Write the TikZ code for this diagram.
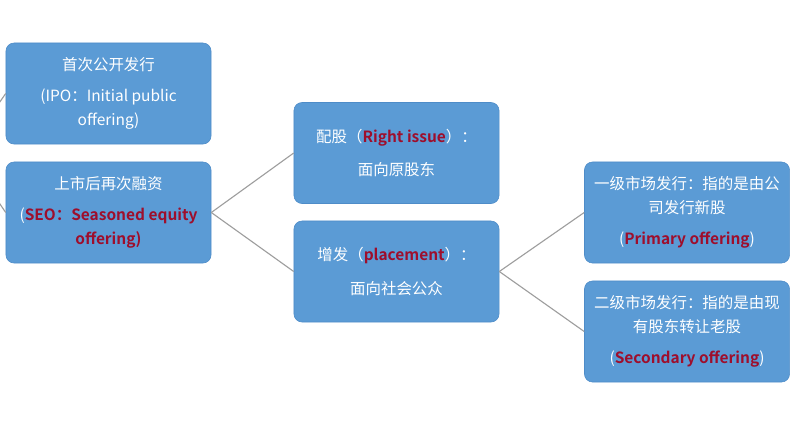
\documentclass[tikz,border=0pt]{standalone}
\usepackage{fontspec}
\setmainfont{Noto Sans CJK SC}[BoldFont={Noto Sans CJK SC Bold}]
\usepackage{tikz}

\definecolor{boxblue}{RGB}{91,155,213}
\definecolor{boxedge}{RGB}{78,140,200}
\definecolor{termred}{RGB}{158,14,44}
\definecolor{linkgray}{RGB}{158,158,158}
\newcommand{\term}[1]{\textcolor{termred}{\bfseries #1}}

\tikzset{
  stage/.style={draw=boxedge, fill=boxblue, rounded corners=0.2cm,
    minimum width=5.125cm, minimum height=2.525cm, inner sep=2pt,
    text=white, align=center, font=\fontsize{11}{17}\selectfont},
  link/.style={draw=linkgray, line width=0.8pt}
}

\begin{document}
\begin{tikzpicture}[x=0.025cm, y=-0.025cm]
  \useasboundingbox (0,0) rectangle (800,430);
  \clip (0,0) rectangle (800,430);
  \coordinate (root) at (-35,152);
  \node[stage] (ipo) at (108.5,93.5) {首次公开发行\\[5pt](IPO：Initial public\\offering)};
  \node[stage] (seo) at (108.5,212.5) {上市后再次融资\\[5pt](\term{SEO：Seasoned equity}\\\term{offering)}};
  \node[stage] (rights) at (396.5,153) {配股（\term{Right issue}）：\\[7pt]面向原股东};
  \node[stage] (placement) at (396.5,271.5) {增发（\term{placement}）：\\[7pt]面向社会公众};
  \node[stage] (primary) at (687,212.5) {一级市场发行：指的是由公\\司发行新股\\[5pt](\term{Primary offering})};
  \node[stage] (secondary) at (687,331.5) {二级市场发行：指的是由现\\有股东转让老股\\[5pt](\term{Secondary offering})};
  \draw[link] (root) -- (ipo.west);
  \draw[link] (root) -- (seo.west);
  \draw[link] (seo.east) -- (rights.west);
  \draw[link] (seo.east) -- (placement.west);
  \draw[link] (placement.east) -- (primary.west);
  \draw[link] (placement.east) -- (secondary.west);
\end{tikzpicture}
\end{document}
